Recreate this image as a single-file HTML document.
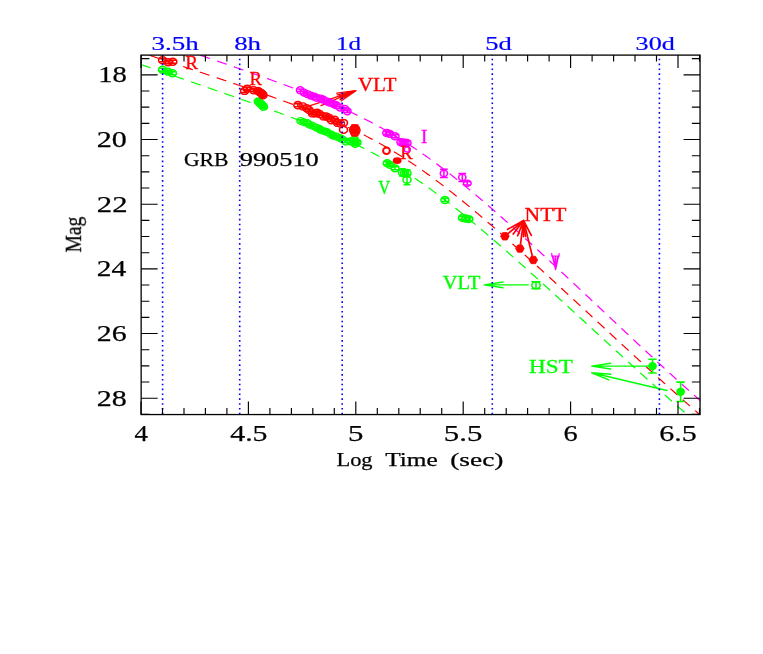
<!DOCTYPE html><html><head><meta charset="utf-8"><style>html,body{margin:0;padding:0;background:#fff;width:763px;height:654px;overflow:hidden;font-family:"Liberation Serif",serif}</style></head><body><svg width="763" height="654" viewBox="0 0 763 654" style="display:block;position:absolute;left:0;top:0" font-family="Liberation Serif, serif">
<rect width="763" height="654" fill="#fff"/>
<defs><clipPath id="cp"><rect x="141.15" y="55.1" width="558.9" height="359.45"/></clipPath></defs>
<g clip-path="url(#cp)"><g transform="scale(1.2,1)" fill="none" stroke-width="1.12">
<path d="M100.96,57.74 L101.79,58.08 L102.63,58.42 L103.46,58.76 L104.29,59.10 L105.13,59.44 L105.96,59.78 L106.79,60.13 L107.63,60.47 L108.46,60.81 L109.29,61.15 L110.13,61.49 L110.96,61.83 L111.79,62.17 L112.63,62.52 L113.46,62.86 L114.29,63.20 L115.13,63.54 L115.96,63.88 L116.79,64.22 L117.63,64.57 L118.46,64.91 L119.29,65.26 L120.13,65.61 L120.96,65.95 L121.79,66.30 L122.63,66.64 L123.46,66.99 L124.29,67.33 L125.13,67.68 L125.96,68.02 L126.79,68.37 L127.63,68.72 L128.46,69.06 L129.29,69.41 L130.12,69.75 L130.96,70.10 L131.79,70.45 L132.62,70.79 L133.46,71.14 L134.29,71.48 L135.12,71.83 L135.96,72.17 L136.79,72.52 L137.62,72.86 L138.46,73.21 L139.29,73.55 L140.12,73.90 L140.96,74.24 L141.79,74.59 L142.62,74.93 L143.46,75.28 L144.29,75.62 L145.12,75.97 L145.96,76.31 L146.79,76.66 L147.62,77.01 L148.46,77.35 L149.29,77.70 L150.12,78.04 L150.96,78.39 L151.79,78.73 L152.62,79.08 L153.46,79.42 L154.29,79.77 L155.12,80.11 L155.96,80.46 L156.79,80.80 L157.62,81.15 L158.46,81.49 L159.29,81.84 L160.12,82.19 L160.96,82.53 L161.79,82.88 L162.62,83.22 L163.46,83.57 L164.29,83.92 L165.12,84.26 L165.96,84.61 L166.79,84.95 L167.62,85.30 L168.46,85.65 L169.29,85.99 L170.12,86.34 L170.96,86.68 L171.79,87.03 L172.62,87.38 L173.46,87.72 L174.29,88.07 L175.12,88.42 L175.96,88.76 L176.79,89.11 L177.62,89.46 L178.46,89.80 L179.29,90.15 L180.12,90.50 L180.96,90.85 L181.79,91.19 L182.62,91.54 L183.46,91.89 L184.29,92.24 L185.12,92.59 L185.96,92.93 L186.79,93.28 L187.62,93.63 L188.46,93.98 L189.29,94.33 L190.12,94.68 L190.96,95.02 L191.79,95.37 L192.62,95.72 L193.46,96.07 L194.29,96.42 L195.12,96.77 L195.96,97.12 L196.79,97.47 L197.62,97.82 L198.46,98.18 L199.29,98.53 L200.12,98.88 L200.96,99.23 L201.79,99.58 L202.62,99.93 L203.46,100.29 L204.29,100.64 L205.12,100.99 L205.96,101.34 L206.79,101.70 L207.62,102.05 L208.46,102.40 L209.29,102.76 L210.12,103.11 L210.96,103.47 L211.79,103.82 L212.62,104.18 L213.46,104.54 L214.29,104.89 L215.12,105.25 L215.96,105.61 L216.79,105.96 L217.62,106.32 L218.46,106.68 L219.29,107.04 L220.12,107.40 L220.96,107.76 L221.79,108.12 L222.62,108.48 L223.46,108.84 L224.29,109.20 L225.12,109.56 L225.96,109.93 L226.79,110.29 L227.62,110.65 L228.46,111.02 L229.29,111.38 L230.12,111.75 L230.96,112.11 L231.79,112.48 L232.62,112.85 L233.46,113.21 L234.29,113.58 L235.12,113.95 L235.96,114.32 L236.79,114.69 L237.62,115.06 L238.46,115.43 L239.29,115.81 L240.12,116.18 L240.96,116.55 L241.79,116.93 L242.62,117.30 L243.46,117.68 L244.29,118.06 L245.12,118.44 L245.96,118.82 L246.79,119.20 L247.62,119.58 L248.46,119.96 L249.29,120.34 L250.12,120.73 L250.96,121.11 L251.79,121.50 L252.62,121.88 L253.46,122.27 L254.29,122.66 L255.12,123.05 L255.96,123.44 L256.79,123.83 L257.62,124.23 L258.46,124.62 L259.29,125.02 L260.12,125.42 L260.96,125.81 L261.79,126.21 L262.62,126.62 L263.46,127.02 L264.29,127.42 L265.12,127.83 L265.96,128.23 L266.79,128.64 L267.62,129.05 L268.46,129.46 L269.29,129.88 L270.12,130.29 L270.96,130.71 L271.79,131.12 L272.62,131.54 L273.46,131.96 L274.29,132.39 L275.12,132.81 L275.96,133.24 L276.79,133.66 L277.62,134.09 L278.46,134.53 L279.29,134.96 L280.12,135.39 L280.96,135.83 L281.79,136.27 L282.62,136.71 L283.46,137.16 L284.29,137.60 L285.12,138.05 L285.96,138.50 L286.79,138.95 L287.62,139.41 L288.46,139.86 L289.29,140.32 L290.12,140.78 L290.96,141.25 L291.79,141.71 L292.62,142.18 L293.46,142.65 L294.29,143.12 L295.12,143.60 L295.96,144.08 L296.79,144.56 L297.62,145.04 L298.46,145.53 L299.29,146.02 L300.12,146.51 L300.96,147.00 L301.79,147.50 L302.62,148.00 L303.46,148.50 L304.29,149.01 L305.12,149.52 L305.96,150.03 L306.79,150.54 L307.62,151.06 L308.46,151.58 L309.29,152.10 L310.12,152.63 L310.96,153.16 L311.79,153.69 L312.62,154.22 L313.46,154.76 L314.29,155.30 L315.12,155.85 L315.96,156.40 L316.79,156.95 L317.62,157.50 L318.46,158.06 L319.29,158.62 L320.12,159.19 L320.96,159.76 L321.79,160.33 L322.62,160.90 L323.46,161.48 L324.29,162.06 L325.12,162.65 L325.96,163.24 L326.79,163.83 L327.62,164.42 L328.46,165.02 L329.29,165.62 L330.12,166.23 L330.96,166.84 L331.79,167.45 L332.62,168.07 L333.46,168.69 L334.29,169.31 L335.12,169.94 L335.96,170.57 L336.79,171.20 L337.62,171.84 L338.46,172.48 L339.29,173.12 L340.12,173.77 L340.96,174.42 L341.79,175.08 L342.62,175.74 L343.46,176.40 L344.29,177.06 L345.12,177.73 L345.96,178.41 L346.79,179.08 L347.62,179.76 L348.46,180.44 L349.29,181.13 L350.12,181.82 L350.96,182.51 L351.79,183.21 L352.62,183.90 L353.46,184.61 L354.29,185.31 L355.12,186.02 L355.96,186.74 L356.79,187.45 L357.62,188.17 L358.46,188.89 L359.29,189.62 L360.12,190.35 L360.96,191.08 L361.79,191.81 L362.62,192.55 L363.46,193.29 L364.29,194.03 L365.12,194.78 L365.96,195.53 L366.79,196.28 L367.62,197.04 L368.46,197.79 L369.29,198.55 L370.12,199.32 L370.96,200.09 L371.79,200.86 L372.62,201.63 L373.46,202.40 L374.29,203.18 L375.12,203.96 L375.96,204.74 L376.79,205.53 L377.62,206.31 L378.46,207.10 L379.29,207.90 L380.12,208.69 L380.96,209.49 L381.79,210.29 L382.62,211.09 L383.46,211.89 L384.29,212.70 L385.12,213.51 L385.96,214.32 L386.79,215.14 L387.62,215.95 L388.46,216.77 L389.29,217.59 L390.12,218.41 L390.96,219.24 L391.79,220.06 L392.62,220.89 L393.46,221.72 L394.29,222.55 L395.12,223.38 L395.96,224.22 L396.79,225.05 L397.62,225.89 L398.46,226.73 L399.29,227.58 L400.12,228.42 L400.96,229.26 L401.79,230.11 L402.62,230.96 L403.46,231.81 L404.29,232.66 L405.12,233.52 L405.96,234.37 L406.79,235.23 L407.62,236.09 L408.46,236.95 L409.29,237.81 L410.12,238.67 L410.96,239.53 L411.79,240.40 L412.62,241.26 L413.46,242.13 L414.29,243.00 L415.12,243.87 L415.96,244.74 L416.79,245.61 L417.62,246.48 L418.46,247.36 L419.29,248.24 L420.12,249.11 L420.96,249.99 L421.79,250.87 L422.62,251.75 L423.46,252.63 L424.29,253.51 L425.12,254.39 L425.96,255.28 L426.79,256.16 L427.62,257.05 L428.46,257.93 L429.29,258.82 L430.12,259.71 L430.96,260.60 L431.79,261.49 L432.62,262.38 L433.46,263.27 L434.29,264.16 L435.12,265.06 L435.96,265.95 L436.79,266.84 L437.62,267.74 L438.46,268.64 L439.29,269.53 L440.12,270.43 L440.96,271.33 L441.79,272.23 L442.62,273.13 L443.46,274.03 L444.29,274.93 L445.12,275.83 L445.96,276.73 L446.79,277.63 L447.62,278.53 L448.46,279.43 L449.29,280.34 L450.12,281.24 L450.96,282.15 L451.79,283.05 L452.62,283.96 L453.46,284.87 L454.29,285.77 L455.12,286.68 L455.96,287.59 L456.79,288.50 L457.62,289.41 L458.46,290.31 L459.29,291.22 L460.12,292.13 L460.96,293.04 L461.79,293.95 L462.62,294.87 L463.46,295.78 L464.29,296.69 L465.12,297.60 L465.96,298.51 L466.79,299.42 L467.62,300.34 L468.46,301.25 L469.29,302.17 L470.12,303.08 L470.96,304.00 L471.79,304.91 L472.62,305.83 L473.46,306.74 L474.29,307.66 L475.12,308.57 L475.96,309.49 L476.79,310.41 L477.62,311.32 L478.46,312.24 L479.29,313.16 L480.12,314.07 L480.96,314.99 L481.79,315.91 L482.62,316.83 L483.46,317.75 L484.29,318.66 L485.12,319.58 L485.96,320.50 L486.79,321.42 L487.62,322.34 L488.46,323.26 L489.29,324.18 L490.12,325.10 L490.96,326.01 L491.79,326.93 L492.62,327.85 L493.46,328.77 L494.29,329.69 L495.12,330.61 L495.96,331.53 L496.79,332.46 L497.62,333.38 L498.46,334.30 L499.29,335.22 L500.12,336.14 L500.96,337.06 L501.79,337.97 L502.62,338.89 L503.46,339.81 L504.29,340.73 L505.12,341.64 L505.96,342.56 L506.79,343.48 L507.62,344.40 L508.46,345.32 L509.29,346.24 L510.12,347.15 L510.96,348.07 L511.79,348.99 L512.62,349.91 L513.46,350.83 L514.29,351.75 L515.12,352.67 L515.96,353.59 L516.79,354.51 L517.62,355.42 L518.46,356.33 L519.29,357.24 L520.12,358.15 L520.96,359.07 L521.79,359.98 L522.62,360.89 L523.46,361.80 L524.29,362.71 L525.12,363.63 L525.96,364.54 L526.79,365.45 L527.62,366.36 L528.46,367.28 L529.29,368.19 L530.12,369.10 L530.96,370.02 L531.79,370.93 L532.62,371.84 L533.46,372.75 L534.29,373.65 L535.12,374.56 L535.96,375.46 L536.79,376.36 L537.62,377.26 L538.46,378.16 L539.29,379.07 L540.12,379.97 L540.96,380.87 L541.79,381.77 L542.62,382.67 L543.46,383.58 L544.29,384.48 L545.12,385.38 L545.96,386.28 L546.79,387.18 L547.62,388.09 L548.46,388.99 L549.29,389.89 L550.12,390.79 L550.96,391.68 L551.79,392.57 L552.62,393.45 L553.46,394.34 L554.29,395.23 L555.12,396.12 L555.96,397.00 L556.79,397.89 L557.62,398.78 L558.46,399.67 L559.29,400.55 L560.12,401.44 L560.96,402.33 L561.79,403.22 L562.62,404.10 L563.46,404.99 L564.29,405.88 L565.12,406.77 L565.96,407.65 L566.79,408.54 L567.62,409.41 L568.46,410.28 L569.29,411.14 L570.12,412.01 L570.96,412.88 L571.79,413.75 L572.62,414.62 L573.46,415.49 L574.29,416.36 L575.12,417.23 L575.96,418.10 L576.79,418.96 L577.62,419.83 L578.46,420.70 L579.29,421.57 L580.12,422.44 L580.96,423.31 L581.79,424.18 L582.62,425.05 L583.46,425.92 L584.29,426.84 L585.12,427.76 L585.96,428.68 L586.79,429.60 L587.62,430.52 L588.46,431.44 L589.29,432.36 L590.12,433.28 L590.96,434.20 L591.79,435.12 L592.62,436.04 L593.46,436.95 L594.29,437.87 L595.12,438.79 L595.96,439.71 L596.79,440.63 L597.62,441.55 L598.46,442.47 L599.29,443.39" stroke="#00ff00" stroke-dasharray="8.7 6.35" stroke-dashoffset="12.27"/>
<path d="M100.96,45.91 L101.79,46.24 L102.63,46.57 L103.46,46.90 L104.29,47.23 L105.13,47.55 L105.96,47.88 L106.79,48.21 L107.63,48.54 L108.46,48.87 L109.29,49.20 L110.13,49.53 L110.96,49.85 L111.79,50.18 L112.63,50.51 L113.46,50.84 L114.29,51.17 L115.13,51.50 L115.96,51.83 L116.79,52.16 L117.63,52.49 L118.46,52.82 L119.29,53.15 L120.13,53.49 L120.96,53.82 L121.79,54.15 L122.63,54.49 L123.46,54.82 L124.29,55.15 L125.13,55.49 L125.96,55.82 L126.79,56.15 L127.63,56.49 L128.46,56.82 L129.29,57.15 L130.12,57.49 L130.96,57.82 L131.79,58.15 L132.62,58.49 L133.46,58.82 L134.29,59.15 L135.12,59.49 L135.96,59.82 L136.79,60.15 L137.62,60.48 L138.46,60.82 L139.29,61.15 L140.12,61.48 L140.96,61.82 L141.79,62.15 L142.62,62.48 L143.46,62.82 L144.29,63.15 L145.12,63.48 L145.96,63.82 L146.79,64.15 L147.62,64.48 L148.46,64.82 L149.29,65.15 L150.12,65.48 L150.96,65.82 L151.79,66.15 L152.62,66.48 L153.46,66.82 L154.29,67.15 L155.12,67.48 L155.96,67.82 L156.79,68.15 L157.62,68.48 L158.46,68.82 L159.29,69.15 L160.12,69.49 L160.96,69.82 L161.79,70.15 L162.62,70.49 L163.46,70.82 L164.29,71.16 L165.12,71.49 L165.96,71.83 L166.79,72.16 L167.62,72.50 L168.46,72.83 L169.29,73.17 L170.12,73.50 L170.96,73.84 L171.79,74.17 L172.62,74.51 L173.46,74.84 L174.29,75.18 L175.12,75.51 L175.96,75.85 L176.79,76.19 L177.62,76.52 L178.46,76.86 L179.29,77.19 L180.12,77.53 L180.96,77.87 L181.79,78.21 L182.62,78.54 L183.46,78.88 L184.29,79.22 L185.12,79.56 L185.96,79.89 L186.79,80.23 L187.62,80.57 L188.46,80.91 L189.29,81.25 L190.12,81.59 L190.96,81.92 L191.79,82.26 L192.62,82.60 L193.46,82.94 L194.29,83.28 L195.12,83.62 L195.96,83.96 L196.79,84.31 L197.62,84.65 L198.46,84.99 L199.29,85.33 L200.12,85.67 L200.96,86.02 L201.79,86.36 L202.62,86.70 L203.46,87.04 L204.29,87.39 L205.12,87.73 L205.96,88.08 L206.79,88.42 L207.62,88.77 L208.46,89.11 L209.29,89.46 L210.12,89.80 L210.96,90.15 L211.79,90.50 L212.62,90.85 L213.46,91.19 L214.29,91.54 L215.12,91.89 L215.96,92.24 L216.79,92.59 L217.62,92.94 L218.46,93.29 L219.29,93.64 L220.12,94.00 L220.96,94.35 L221.79,94.70 L222.62,95.06 L223.46,95.41 L224.29,95.76 L225.12,96.12 L225.96,96.48 L226.79,96.83 L227.62,97.19 L228.46,97.55 L229.29,97.91 L230.12,98.27 L230.96,98.63 L231.79,98.99 L232.62,99.35 L233.46,99.71 L234.29,100.08 L235.12,100.44 L235.96,100.80 L236.79,101.17 L237.62,101.54 L238.46,101.90 L239.29,102.27 L240.12,102.64 L240.96,103.01 L241.79,103.38 L242.62,103.75 L243.46,104.13 L244.29,104.50 L245.12,104.88 L245.96,105.25 L246.79,105.63 L247.62,106.01 L248.46,106.39 L249.29,106.77 L250.12,107.15 L250.96,107.53 L251.79,107.91 L252.62,108.30 L253.46,108.68 L254.29,109.07 L255.12,109.46 L255.96,109.85 L256.79,110.24 L257.62,110.63 L258.46,111.03 L259.29,111.42 L260.12,111.82 L260.96,112.22 L261.79,112.62 L262.62,113.02 L263.46,113.42 L264.29,113.82 L265.12,114.23 L265.96,114.64 L266.79,115.05 L267.62,115.46 L268.46,115.87 L269.29,116.28 L270.12,116.70 L270.96,117.12 L271.79,117.53 L272.62,117.96 L273.46,118.38 L274.29,118.80 L275.12,119.23 L275.96,119.66 L276.79,120.09 L277.62,120.52 L278.46,120.96 L279.29,121.39 L280.12,121.83 L280.96,122.27 L281.79,122.72 L282.62,123.16 L283.46,123.61 L284.29,124.06 L285.12,124.51 L285.96,124.96 L286.79,125.42 L287.62,125.88 L288.46,126.34 L289.29,126.80 L290.12,127.27 L290.96,127.74 L291.79,128.21 L292.62,128.68 L293.46,129.16 L294.29,129.64 L295.12,130.12 L295.96,130.60 L296.79,131.09 L297.62,131.58 L298.46,132.07 L299.29,132.57 L300.12,133.07 L300.96,133.57 L301.79,134.07 L302.62,134.58 L303.46,135.09 L304.29,135.60 L305.12,136.11 L305.96,136.63 L306.79,137.15 L307.62,137.68 L308.46,138.20 L309.29,138.73 L310.12,139.27 L310.96,139.80 L311.79,140.34 L312.62,140.89 L313.46,141.43 L314.29,141.98 L315.12,142.53 L315.96,143.09 L316.79,143.65 L317.62,144.21 L318.46,144.78 L319.29,145.35 L320.12,145.92 L320.96,146.50 L321.79,147.07 L322.62,147.66 L323.46,148.24 L324.29,148.83 L325.12,149.42 L325.96,150.02 L326.79,150.62 L327.62,151.22 L328.46,151.83 L329.29,152.44 L330.12,153.05 L330.96,153.67 L331.79,154.29 L332.62,154.91 L333.46,155.54 L334.29,156.17 L335.12,156.80 L335.96,157.44 L336.79,158.08 L337.62,158.73 L338.46,159.37 L339.29,160.03 L340.12,160.68 L340.96,161.34 L341.79,162.00 L342.62,162.66 L343.46,163.33 L344.29,164.00 L345.12,164.68 L345.96,165.36 L346.79,166.04 L347.62,166.72 L348.46,167.41 L349.29,168.10 L350.12,168.80 L350.96,169.50 L351.79,170.20 L352.62,170.91 L353.46,171.61 L354.29,172.33 L355.12,173.04 L355.96,173.76 L356.79,174.48 L357.62,175.20 L358.46,175.93 L359.29,176.66 L360.12,177.39 L360.96,178.13 L361.79,178.87 L362.62,179.61 L363.46,180.36 L364.29,181.11 L365.12,181.86 L365.96,182.61 L366.79,183.37 L367.62,184.13 L368.46,184.89 L369.29,185.66 L370.12,186.43 L370.96,187.20 L371.79,187.97 L372.62,188.75 L373.46,189.53 L374.29,190.31 L375.12,191.09 L375.96,191.88 L376.79,192.67 L377.62,193.46 L378.46,194.25 L379.29,195.05 L380.12,195.85 L380.96,196.65 L381.79,197.45 L382.62,198.26 L383.46,199.07 L384.29,199.88 L385.12,200.69 L385.96,201.51 L386.79,202.33 L387.62,203.14 L388.46,203.97 L389.29,204.79 L390.12,205.62 L390.96,206.44 L391.79,207.27 L392.62,208.11 L393.46,208.94 L394.29,209.77 L395.12,210.61 L395.96,211.45 L396.79,212.29 L397.62,213.13 L398.46,213.98 L399.29,214.82 L400.12,215.67 L400.96,216.52 L401.79,217.37 L402.62,218.23 L403.46,219.08 L404.29,219.94 L405.12,220.80 L405.96,221.66 L406.79,222.52 L407.62,223.38 L408.46,224.24 L409.29,225.11 L410.12,225.98 L410.96,226.84 L411.79,227.71 L412.62,228.58 L413.46,229.46 L414.29,230.33 L415.12,231.20 L415.96,232.08 L416.79,232.96 L417.62,233.83 L418.46,234.71 L419.29,235.59 L420.12,236.48 L420.96,237.36 L421.79,238.24 L422.62,239.13 L423.46,240.02 L424.29,240.90 L425.12,241.79 L425.96,242.68 L426.79,243.57 L427.62,244.46 L428.46,245.35 L429.29,246.25 L430.12,247.14 L430.96,248.03 L431.79,248.93 L432.62,249.83 L433.46,250.72 L434.29,251.62 L435.12,252.52 L435.96,253.42 L436.79,254.32 L437.62,255.22 L438.46,256.13 L439.29,257.03 L440.12,257.93 L440.96,258.84 L441.79,259.74 L442.62,260.65 L443.46,261.55 L444.29,262.46 L445.12,263.37 L445.96,264.28 L446.79,265.18 L447.62,266.09 L448.46,267.00 L449.29,267.91 L450.12,268.83 L450.96,269.74 L451.79,270.65 L452.62,271.56 L453.46,272.48 L454.29,273.39 L455.12,274.31 L455.96,275.22 L456.79,276.14 L457.62,277.05 L458.46,277.97 L459.29,278.89 L460.12,279.80 L460.96,280.72 L461.79,281.64 L462.62,282.56 L463.46,283.48 L464.29,284.40 L465.12,285.32 L465.96,286.24 L466.79,287.16 L467.62,288.08 L468.46,289.00 L469.29,289.92 L470.12,290.84 L470.96,291.77 L471.79,292.69 L472.62,293.61 L473.46,294.54 L474.29,295.46 L475.12,296.38 L475.96,297.31 L476.79,298.23 L477.62,299.16 L478.46,300.08 L479.29,301.01 L480.12,301.94 L480.96,302.86 L481.79,303.79 L482.62,304.71 L483.46,305.64 L484.29,306.57 L485.12,307.49 L485.96,308.42 L486.79,309.35 L487.62,310.28 L488.46,311.20 L489.29,312.13 L490.12,313.06 L490.96,313.99 L491.79,314.92 L492.62,315.85 L493.46,316.77 L494.29,317.70 L495.12,318.63 L495.96,319.56 L496.79,320.49 L497.62,321.42 L498.46,322.35 L499.29,323.28 L500.12,324.21 L500.96,325.14 L501.79,326.06 L502.62,326.99 L503.46,327.92 L504.29,328.84 L505.12,329.77 L505.96,330.70 L506.79,331.63 L507.62,332.55 L508.46,333.48 L509.29,334.41 L510.12,335.34 L510.96,336.27 L511.79,337.19 L512.62,338.12 L513.46,339.05 L514.29,339.98 L515.12,340.91 L515.96,341.84 L516.79,342.76 L517.62,343.68 L518.46,344.61 L519.29,345.53 L520.12,346.45 L520.96,347.37 L521.79,348.29 L522.62,349.21 L523.46,350.14 L524.29,351.06 L525.12,351.98 L525.96,352.90 L526.79,353.82 L527.62,354.75 L528.46,355.67 L529.29,356.59 L530.12,357.51 L530.96,358.44 L531.79,359.36 L532.62,360.28 L533.46,361.20 L534.29,362.11 L535.12,363.03 L535.96,363.94 L536.79,364.85 L537.62,365.76 L538.46,366.67 L539.29,367.58 L540.12,368.50 L540.96,369.41 L541.79,370.32 L542.62,371.23 L543.46,372.14 L544.29,373.06 L545.12,373.97 L545.96,374.88 L546.79,375.79 L547.62,376.70 L548.46,377.62 L549.29,378.53 L550.12,379.44 L550.96,380.34 L551.79,381.23 L552.62,382.13 L553.46,383.03 L554.29,383.93 L555.12,384.82 L555.96,385.72 L556.79,386.62 L557.62,387.52 L558.46,388.41 L559.29,389.31 L560.12,390.21 L560.96,391.11 L561.79,392.00 L562.62,392.90 L563.46,393.80 L564.29,394.70 L565.12,395.59 L565.96,396.49 L566.79,397.39 L567.62,398.27 L568.46,399.14 L569.29,400.02 L570.12,400.90 L570.96,401.78 L571.79,402.66 L572.62,403.54 L573.46,404.42 L574.29,405.30 L575.12,406.18 L575.96,407.06 L576.79,407.93 L577.62,408.81 L578.46,409.69 L579.29,410.57 L580.12,411.45 L580.96,412.33 L581.79,413.21 L582.62,414.09 L583.46,414.98 L584.29,415.90 L585.12,416.83 L585.96,417.76 L586.79,418.69 L587.62,419.62 L588.46,420.55 L589.29,421.48 L590.12,422.41 L590.96,423.34 L591.79,424.27 L592.62,425.20 L593.46,426.13 L594.29,427.06 L595.12,427.99 L595.96,428.92 L596.79,429.85 L597.62,430.78 L598.46,431.70 L599.29,432.63" stroke="#ff0000" stroke-dasharray="8.7 6.35" stroke-dashoffset="4.60"/>
<path d="M100.96,28.43 L101.79,28.77 L102.63,29.10 L103.46,29.44 L104.29,29.77 L105.13,30.11 L105.96,30.44 L106.79,30.78 L107.63,31.11 L108.46,31.45 L109.29,31.79 L110.13,32.12 L110.96,32.46 L111.79,32.79 L112.63,33.13 L113.46,33.46 L114.29,33.80 L115.13,34.13 L115.96,34.47 L116.79,34.80 L117.63,35.14 L118.46,35.48 L119.29,35.82 L120.13,36.16 L120.96,36.50 L121.79,36.84 L122.63,37.18 L123.46,37.52 L124.29,37.86 L125.13,38.20 L125.96,38.54 L126.79,38.88 L127.63,39.22 L128.46,39.56 L129.29,39.90 L130.12,40.24 L130.96,40.58 L131.79,40.92 L132.62,41.26 L133.46,41.60 L134.29,41.94 L135.12,42.28 L135.96,42.62 L136.79,42.96 L137.62,43.29 L138.46,43.63 L139.29,43.97 L140.12,44.31 L140.96,44.65 L141.79,44.99 L142.62,45.33 L143.46,45.67 L144.29,46.01 L145.12,46.35 L145.96,46.69 L146.79,47.03 L147.62,47.37 L148.46,47.71 L149.29,48.05 L150.12,48.39 L150.96,48.73 L151.79,49.07 L152.62,49.41 L153.46,49.75 L154.29,50.09 L155.12,50.43 L155.96,50.77 L156.79,51.11 L157.62,51.45 L158.46,51.79 L159.29,52.13 L160.12,52.47 L160.96,52.81 L161.79,53.16 L162.62,53.50 L163.46,53.84 L164.29,54.18 L165.12,54.52 L165.96,54.86 L166.79,55.20 L167.62,55.54 L168.46,55.88 L169.29,56.23 L170.12,56.57 L170.96,56.91 L171.79,57.25 L172.62,57.59 L173.46,57.93 L174.29,58.28 L175.12,58.62 L175.96,58.96 L176.79,59.30 L177.62,59.65 L178.46,59.99 L179.29,60.33 L180.12,60.67 L180.96,61.02 L181.79,61.36 L182.62,61.71 L183.46,62.05 L184.29,62.39 L185.12,62.74 L185.96,63.08 L186.79,63.43 L187.62,63.77 L188.46,64.11 L189.29,64.46 L190.12,64.81 L190.96,65.15 L191.79,65.50 L192.62,65.84 L193.46,66.19 L194.29,66.54 L195.12,66.88 L195.96,67.23 L196.79,67.58 L197.62,67.92 L198.46,68.27 L199.29,68.62 L200.12,68.97 L200.96,69.32 L201.79,69.67 L202.62,70.02 L203.46,70.36 L204.29,70.71 L205.12,71.06 L205.96,71.41 L206.79,71.77 L207.62,72.12 L208.46,72.47 L209.29,72.82 L210.12,73.17 L210.96,73.53 L211.79,73.88 L212.62,74.23 L213.46,74.59 L214.29,74.94 L215.12,75.30 L215.96,75.65 L216.79,76.01 L217.62,76.36 L218.46,76.72 L219.29,77.08 L220.12,77.44 L220.96,77.79 L221.79,78.15 L222.62,78.51 L223.46,78.87 L224.29,79.23 L225.12,79.59 L225.96,79.96 L226.79,80.32 L227.62,80.68 L228.46,81.04 L229.29,81.41 L230.12,81.77 L230.96,82.14 L231.79,82.50 L232.62,82.87 L233.46,83.24 L234.29,83.61 L235.12,83.98 L235.96,84.35 L236.79,84.72 L237.62,85.09 L238.46,85.46 L239.29,85.83 L240.12,86.21 L240.96,86.58 L241.79,86.96 L242.62,87.33 L243.46,87.71 L244.29,88.09 L245.12,88.47 L245.96,88.85 L246.79,89.23 L247.62,89.61 L248.46,90.00 L249.29,90.38 L250.12,90.77 L250.96,91.15 L251.79,91.54 L252.62,91.93 L253.46,92.32 L254.29,92.71 L255.12,93.10 L255.96,93.49 L256.79,93.89 L257.62,94.28 L258.46,94.68 L259.29,95.08 L260.12,95.48 L260.96,95.88 L261.79,96.28 L262.62,96.69 L263.46,97.09 L264.29,97.50 L265.12,97.91 L265.96,98.31 L266.79,98.73 L267.62,99.14 L268.46,99.55 L269.29,99.97 L270.12,100.39 L270.96,100.80 L271.79,101.23 L272.62,101.65 L273.46,102.07 L274.29,102.50 L275.12,102.93 L275.96,103.35 L276.79,103.79 L277.62,104.22 L278.46,104.65 L279.29,105.09 L280.12,105.53 L280.96,105.97 L281.79,106.41 L282.62,106.86 L283.46,107.31 L284.29,107.75 L285.12,108.21 L285.96,108.66 L286.79,109.11 L287.62,109.57 L288.46,110.03 L289.29,110.49 L290.12,110.96 L290.96,111.43 L291.79,111.90 L292.62,112.37 L293.46,112.84 L294.29,113.32 L295.12,113.80 L295.96,114.28 L296.79,114.76 L297.62,115.25 L298.46,115.74 L299.29,116.23 L300.12,116.72 L300.96,117.22 L301.79,117.72 L302.62,118.22 L303.46,118.73 L304.29,119.24 L305.12,119.75 L305.96,120.26 L306.79,120.78 L307.62,121.30 L308.46,121.82 L309.29,122.34 L310.12,122.87 L310.96,123.40 L311.79,123.94 L312.62,124.48 L313.46,125.02 L314.29,125.56 L315.12,126.11 L315.96,126.65 L316.79,127.21 L317.62,127.76 L318.46,128.32 L319.29,128.89 L320.12,129.45 L320.96,130.02 L321.79,130.59 L322.62,131.17 L323.46,131.75 L324.29,132.33 L325.12,132.91 L325.96,133.50 L326.79,134.09 L327.62,134.69 L328.46,135.29 L329.29,135.89 L330.12,136.49 L330.96,137.10 L331.79,137.71 L332.62,138.33 L333.46,138.95 L334.29,139.57 L335.12,140.20 L335.96,140.82 L336.79,141.46 L337.62,142.09 L338.46,142.73 L339.29,143.38 L340.12,144.02 L340.96,144.67 L341.79,145.32 L342.62,145.98 L343.46,146.64 L344.29,147.30 L345.12,147.97 L345.96,148.64 L346.79,149.31 L347.62,149.99 L348.46,150.67 L349.29,151.35 L350.12,152.04 L350.96,152.73 L351.79,153.42 L352.62,154.12 L353.46,154.82 L354.29,155.53 L355.12,156.23 L355.96,156.94 L356.79,157.66 L357.62,158.37 L358.46,159.09 L359.29,159.82 L360.12,160.54 L360.96,161.27 L361.79,162.00 L362.62,162.74 L363.46,163.48 L364.29,164.22 L365.12,164.96 L365.96,165.71 L366.79,166.46 L367.62,167.21 L368.46,167.97 L369.29,168.73 L370.12,169.49 L370.96,170.26 L371.79,171.03 L372.62,171.80 L373.46,172.57 L374.29,173.35 L375.12,174.13 L375.96,174.91 L376.79,175.70 L377.62,176.48 L378.46,177.27 L379.29,178.07 L380.12,178.86 L380.96,179.66 L381.79,180.46 L382.62,181.26 L383.46,182.07 L384.29,182.88 L385.12,183.69 L385.96,184.50 L386.79,185.32 L387.62,186.13 L388.46,186.95 L389.29,187.78 L390.12,188.60 L390.96,189.43 L391.79,190.26 L392.62,191.09 L393.46,191.92 L394.29,192.75 L395.12,193.59 L395.96,194.43 L396.79,195.27 L397.62,196.11 L398.46,196.96 L399.29,197.81 L400.12,198.65 L400.96,199.51 L401.79,200.36 L402.62,201.21 L403.46,202.07 L404.29,202.93 L405.12,203.79 L405.96,204.65 L406.79,205.51 L407.62,206.38 L408.46,207.25 L409.29,208.11 L410.12,208.98 L410.96,209.86 L411.79,210.73 L412.62,211.60 L413.46,212.48 L414.29,213.36 L415.12,214.23 L415.96,215.11 L416.79,215.99 L417.62,216.88 L418.46,217.76 L419.29,218.65 L420.12,219.54 L420.96,220.43 L421.79,221.32 L422.62,222.21 L423.46,223.10 L424.29,223.99 L425.12,224.89 L425.96,225.78 L426.79,226.68 L427.62,227.58 L428.46,228.47 L429.29,229.37 L430.12,230.28 L430.96,231.18 L431.79,232.08 L432.62,232.98 L433.46,233.89 L434.29,234.79 L435.12,235.70 L435.96,236.61 L436.79,237.52 L437.62,238.43 L438.46,239.34 L439.29,240.25 L440.12,241.16 L440.96,242.08 L441.79,242.99 L442.62,243.91 L443.46,244.82 L444.29,245.74 L445.12,246.66 L445.96,247.57 L446.79,248.49 L447.62,249.41 L448.46,250.33 L449.29,251.25 L450.12,252.17 L450.96,253.09 L451.79,254.02 L452.62,254.94 L453.46,255.86 L454.29,256.79 L455.12,257.72 L455.96,258.64 L456.79,259.57 L457.62,260.49 L458.46,261.42 L459.29,262.35 L460.12,263.28 L460.96,264.21 L461.79,265.14 L462.62,266.07 L463.46,267.00 L464.29,267.93 L465.12,268.86 L465.96,269.79 L466.79,270.72 L467.62,271.66 L468.46,272.59 L469.29,273.53 L470.12,274.46 L470.96,275.39 L471.79,276.33 L472.62,277.27 L473.46,278.20 L474.29,279.14 L475.12,280.08 L475.96,281.01 L476.79,281.95 L477.62,282.89 L478.46,283.83 L479.29,284.76 L480.12,285.70 L480.96,286.64 L481.79,287.58 L482.62,288.52 L483.46,289.46 L484.29,290.40 L485.12,291.34 L485.96,292.28 L486.79,293.22 L487.62,294.16 L488.46,295.10 L489.29,296.05 L490.12,296.99 L490.96,297.93 L491.79,298.87 L492.62,299.81 L493.46,300.76 L494.29,301.70 L495.12,302.64 L495.96,303.58 L496.79,304.53 L497.62,305.47 L498.46,306.42 L499.29,307.36 L500.12,308.30 L500.96,309.24 L501.79,310.18 L502.62,311.13 L503.46,312.07 L504.29,313.01 L505.12,313.95 L505.96,314.89 L506.79,315.83 L507.62,316.77 L508.46,317.72 L509.29,318.66 L510.12,319.60 L510.96,320.54 L511.79,321.49 L512.62,322.43 L513.46,323.37 L514.29,324.31 L515.12,325.26 L515.96,326.20 L516.79,327.14 L517.62,328.08 L518.46,329.02 L519.29,329.95 L520.12,330.89 L520.96,331.82 L521.79,332.76 L522.62,333.70 L523.46,334.63 L524.29,335.57 L525.12,336.51 L525.96,337.45 L526.79,338.38 L527.62,339.32 L528.46,340.26 L529.29,341.19 L530.12,342.13 L530.96,343.07 L531.79,344.01 L532.62,344.94 L533.46,345.88 L534.29,346.81 L535.12,347.73 L535.96,348.66 L536.79,349.59 L537.62,350.51 L538.46,351.44 L539.29,352.37 L540.12,353.29 L540.96,354.22 L541.79,355.15 L542.62,356.08 L543.46,357.00 L544.29,357.93 L545.12,358.86 L545.96,359.79 L546.79,360.71 L547.62,361.64 L548.46,362.57 L549.29,363.50 L550.12,364.42 L550.96,365.33 L551.79,366.25 L552.62,367.16 L553.46,368.07 L554.29,368.98 L555.12,369.90 L555.96,370.81 L556.79,371.72 L557.62,372.64 L558.46,373.55 L559.29,374.46 L560.12,375.38 L560.96,376.29 L561.79,377.20 L562.62,378.11 L563.46,379.03 L564.29,379.94 L565.12,380.85 L565.96,381.77 L566.79,382.68 L567.62,383.57 L568.46,384.47 L569.29,385.36 L570.12,386.26 L570.96,387.15 L571.79,388.04 L572.62,388.94 L573.46,389.83 L574.29,390.73 L575.12,391.62 L575.96,392.52 L576.79,393.41 L577.62,394.31 L578.46,395.20 L579.29,396.10 L580.12,396.99 L580.96,397.89 L581.79,398.78 L582.62,399.68 L583.46,400.58 L584.29,401.52 L585.12,402.47 L585.96,403.41 L586.79,404.36 L587.62,405.30 L588.46,406.25 L589.29,407.19 L590.12,408.14 L590.96,409.08 L591.79,410.03 L592.62,410.97 L593.46,411.92 L594.29,412.86 L595.12,413.81 L595.96,414.75 L596.79,415.70 L597.62,416.64 L598.46,417.59 L599.29,418.54" stroke="#ff00ff" stroke-dasharray="8.7 6.35" stroke-dashoffset="3.96"/>
</g></g>
<ellipse cx="162.6" cy="69.7" rx="4.0" ry="3.4" fill="none" stroke="#00ff00" stroke-width="1.55"/><path d="M162.6,68.2V71.2M159.2,68.2H166.0M159.2,71.2H166.0" stroke="#00ff00" stroke-width="1.55" fill="none"/>
<ellipse cx="167.7" cy="71.6" rx="4.0" ry="3.4" fill="none" stroke="#00ff00" stroke-width="1.55"/><path d="M167.7,70.1V73.1M164.3,70.1H171.1M164.3,73.1H171.1" stroke="#00ff00" stroke-width="1.55" fill="none"/>
<ellipse cx="172.4" cy="73.2" rx="4.0" ry="3.4" fill="none" stroke="#00ff00" stroke-width="1.55"/><path d="M172.4,71.7V74.7M169.0,71.7H175.8M169.0,74.7H175.8" stroke="#00ff00" stroke-width="1.55" fill="none"/>
<ellipse cx="258.3" cy="101.5" rx="4.0" ry="3.4" fill="none" stroke="#00ff00" stroke-width="1.55"/><path d="M258.3,100.0V103.0M254.9,100.0H261.7M254.9,103.0H261.7" stroke="#00ff00" stroke-width="1.55" fill="none"/>
<ellipse cx="259.6" cy="102.8" rx="4.0" ry="3.4" fill="none" stroke="#00ff00" stroke-width="1.55"/><path d="M259.6,101.3V104.3M256.2,101.3H263.0M256.2,104.3H263.0" stroke="#00ff00" stroke-width="1.55" fill="none"/>
<ellipse cx="261.0" cy="104.0" rx="4.0" ry="3.4" fill="none" stroke="#00ff00" stroke-width="1.55"/><path d="M261.0,102.5V105.5M257.6,102.5H264.4M257.6,105.5H264.4" stroke="#00ff00" stroke-width="1.55" fill="none"/>
<ellipse cx="262.3" cy="105.3" rx="4.0" ry="3.4" fill="none" stroke="#00ff00" stroke-width="1.55"/><path d="M262.3,103.8V106.8M258.9,103.8H265.7M258.9,106.8H265.7" stroke="#00ff00" stroke-width="1.55" fill="none"/>
<ellipse cx="263.5" cy="106.8" rx="4.0" ry="3.4" fill="none" stroke="#00ff00" stroke-width="1.55"/><path d="M263.5,105.3V108.3M260.1,105.3H266.9M260.1,108.3H266.9" stroke="#00ff00" stroke-width="1.55" fill="none"/>
<ellipse cx="300.7" cy="120.9" rx="3.8" ry="3.3" fill="none" stroke="#00ff00" stroke-width="1.45"/><path d="M300.7,119.7V122.1M297.3,119.7H304.1M297.3,122.1H304.1" stroke="#00ff00" stroke-width="1.45" fill="none"/>
<ellipse cx="303.8" cy="122.2" rx="3.8" ry="3.3" fill="none" stroke="#00ff00" stroke-width="1.45"/><path d="M303.8,121.0V123.4M300.4,121.0H307.2M300.4,123.4H307.2" stroke="#00ff00" stroke-width="1.45" fill="none"/>
<ellipse cx="307.1" cy="122.9" rx="3.8" ry="3.3" fill="none" stroke="#00ff00" stroke-width="1.45"/><path d="M307.1,121.7V124.1M303.7,121.7H310.5M303.7,124.1H310.5" stroke="#00ff00" stroke-width="1.45" fill="none"/>
<ellipse cx="309.3" cy="124.7" rx="3.8" ry="3.3" fill="none" stroke="#00ff00" stroke-width="1.45"/><path d="M309.3,123.5V125.9M305.9,123.5H312.7M305.9,125.9H312.7" stroke="#00ff00" stroke-width="1.45" fill="none"/>
<ellipse cx="312.7" cy="125.8" rx="3.8" ry="3.3" fill="none" stroke="#00ff00" stroke-width="1.45"/><path d="M312.7,124.6V127.0M309.3,124.6H316.1M309.3,127.0H316.1" stroke="#00ff00" stroke-width="1.45" fill="none"/>
<ellipse cx="316.4" cy="127.7" rx="3.8" ry="3.3" fill="none" stroke="#00ff00" stroke-width="1.45"/><path d="M316.4,126.5V128.9M313.0,126.5H319.8M313.0,128.9H319.8" stroke="#00ff00" stroke-width="1.45" fill="none"/>
<ellipse cx="319.4" cy="128.8" rx="3.8" ry="3.3" fill="none" stroke="#00ff00" stroke-width="1.45"/><path d="M319.4,127.6V130.0M316.0,127.6H322.8M316.0,130.0H322.8" stroke="#00ff00" stroke-width="1.45" fill="none"/>
<ellipse cx="321.0" cy="130.1" rx="3.8" ry="3.3" fill="none" stroke="#00ff00" stroke-width="1.45"/><path d="M321.0,128.9V131.3M317.6,128.9H324.4M317.6,131.3H324.4" stroke="#00ff00" stroke-width="1.45" fill="none"/>
<ellipse cx="324.2" cy="131.2" rx="3.8" ry="3.3" fill="none" stroke="#00ff00" stroke-width="1.45"/><path d="M324.2,130.0V132.4M320.8,130.0H327.6M320.8,132.4H327.6" stroke="#00ff00" stroke-width="1.45" fill="none"/>
<ellipse cx="326.9" cy="132.0" rx="3.8" ry="3.3" fill="none" stroke="#00ff00" stroke-width="1.45"/><path d="M326.9,130.8V133.2M323.5,130.8H330.3M323.5,133.2H330.3" stroke="#00ff00" stroke-width="1.45" fill="none"/>
<ellipse cx="330.6" cy="134.2" rx="3.8" ry="3.3" fill="none" stroke="#00ff00" stroke-width="1.45"/><path d="M330.6,133.0V135.4M327.2,133.0H334.0M327.2,135.4H334.0" stroke="#00ff00" stroke-width="1.45" fill="none"/>
<ellipse cx="332.9" cy="135.6" rx="3.8" ry="3.3" fill="none" stroke="#00ff00" stroke-width="1.45"/><path d="M332.9,134.4V136.8M329.5,134.4H336.3M329.5,136.8H336.3" stroke="#00ff00" stroke-width="1.45" fill="none"/>
<ellipse cx="336.6" cy="136.6" rx="3.8" ry="3.3" fill="none" stroke="#00ff00" stroke-width="1.45"/><path d="M336.6,135.4V137.8M333.2,135.4H340.0M333.2,137.8H340.0" stroke="#00ff00" stroke-width="1.45" fill="none"/>
<ellipse cx="340.0" cy="138.0" rx="3.8" ry="3.3" fill="none" stroke="#00ff00" stroke-width="1.45"/><path d="M340.0,136.8V139.2M336.6,136.8H343.4M336.6,139.2H343.4" stroke="#00ff00" stroke-width="1.45" fill="none"/>
<ellipse cx="342.3" cy="139.3" rx="3.8" ry="3.3" fill="none" stroke="#00ff00" stroke-width="1.45"/><path d="M342.3,138.1V140.5M338.9,138.1H345.7M338.9,140.5H345.7" stroke="#00ff00" stroke-width="1.45" fill="none"/>
<ellipse cx="345.7" cy="141.6" rx="3.8" ry="3.3" fill="none" stroke="#00ff00" stroke-width="1.45"/><path d="M345.7,140.4V142.8M342.3,140.4H349.1M342.3,142.8H349.1" stroke="#00ff00" stroke-width="1.45" fill="none"/>
<ellipse cx="351.0" cy="141.2" rx="4.0" ry="3.4" fill="none" stroke="#00ff00" stroke-width="1.55"/><path d="M351.0,139.7V142.7M347.6,139.7H354.4M347.6,142.7H354.4" stroke="#00ff00" stroke-width="1.55" fill="none"/>
<ellipse cx="354.8" cy="141.6" rx="4.0" ry="3.4" fill="none" stroke="#00ff00" stroke-width="1.55"/><path d="M354.8,140.1V143.1M351.4,140.1H358.2M351.4,143.1H358.2" stroke="#00ff00" stroke-width="1.55" fill="none"/>
<ellipse cx="357.0" cy="142.6" rx="4.0" ry="3.4" fill="none" stroke="#00ff00" stroke-width="1.55"/><path d="M357.0,141.1V144.1M353.6,141.1H360.4M353.6,144.1H360.4" stroke="#00ff00" stroke-width="1.55" fill="none"/>
<ellipse cx="354.5" cy="139.8" rx="4.0" ry="3.4" fill="none" stroke="#00ff00" stroke-width="1.55"/><path d="M354.5,138.3V141.3M351.1,138.3H357.9M351.1,141.3H357.9" stroke="#00ff00" stroke-width="1.55" fill="none"/>
<ellipse cx="355.2" cy="143.8" rx="4.0" ry="3.4" fill="none" stroke="#00ff00" stroke-width="1.55"/><path d="M355.2,142.3V145.3M351.8,142.3H358.6M351.8,145.3H358.6" stroke="#00ff00" stroke-width="1.55" fill="none"/>
<ellipse cx="387.3" cy="163.2" rx="4.0" ry="3.4" fill="none" stroke="#00ff00" stroke-width="1.55"/><path d="M387.3,161.7V164.7M383.9,161.7H390.7M383.9,164.7H390.7" stroke="#00ff00" stroke-width="1.55" fill="none"/>
<ellipse cx="390.0" cy="164.8" rx="4.0" ry="3.4" fill="none" stroke="#00ff00" stroke-width="1.55"/><path d="M390.0,163.3V166.3M386.6,163.3H393.4M386.6,166.3H393.4" stroke="#00ff00" stroke-width="1.55" fill="none"/>
<ellipse cx="395.0" cy="168.3" rx="4.0" ry="3.4" fill="none" stroke="#00ff00" stroke-width="1.55"/><path d="M395.0,166.8V169.8M391.6,166.8H398.4M391.6,169.8H398.4" stroke="#00ff00" stroke-width="1.55" fill="none"/>
<ellipse cx="402.4" cy="172.4" rx="4.0" ry="3.4" fill="none" stroke="#00ff00" stroke-width="1.55"/><path d="M402.4,168.9V175.9M399.0,168.9H405.8M399.0,175.9H405.8" stroke="#00ff00" stroke-width="1.55" fill="none"/>
<ellipse cx="404.5" cy="173.0" rx="4.0" ry="3.4" fill="none" stroke="#00ff00" stroke-width="1.55"/><path d="M404.5,169.5V176.5M401.1,169.5H407.9M401.1,176.5H407.9" stroke="#00ff00" stroke-width="1.55" fill="none"/>
<ellipse cx="407.0" cy="173.3" rx="4.0" ry="3.4" fill="none" stroke="#00ff00" stroke-width="1.55"/><path d="M407.0,169.8V176.8M403.6,169.8H410.4M403.6,176.8H410.4" stroke="#00ff00" stroke-width="1.55" fill="none"/>
<ellipse cx="407.0" cy="179.7" rx="4.0" ry="3.4" fill="none" stroke="#00ff00" stroke-width="1.55"/><path d="M407.0,174.7V184.7M403.6,174.7H410.4M403.6,184.7H410.4" stroke="#00ff00" stroke-width="1.55" fill="none"/>
<ellipse cx="444.9" cy="200.0" rx="4.0" ry="3.4" fill="none" stroke="#00ff00" stroke-width="1.55"/><path d="M444.9,198.5V201.5M441.5,198.5H448.3M441.5,201.5H448.3" stroke="#00ff00" stroke-width="1.55" fill="none"/>
<ellipse cx="462.5" cy="217.8" rx="4.0" ry="3.4" fill="none" stroke="#00ff00" stroke-width="1.55"/><path d="M462.5,216.3V219.3M459.1,216.3H465.9M459.1,219.3H465.9" stroke="#00ff00" stroke-width="1.55" fill="none"/>
<ellipse cx="465.8" cy="218.5" rx="4.0" ry="3.4" fill="none" stroke="#00ff00" stroke-width="1.55"/><path d="M465.8,217.0V220.0M462.4,217.0H469.2M462.4,220.0H469.2" stroke="#00ff00" stroke-width="1.55" fill="none"/>
<ellipse cx="468.8" cy="219.1" rx="4.0" ry="3.4" fill="none" stroke="#00ff00" stroke-width="1.55"/><path d="M468.8,217.6V220.6M465.4,217.6H472.2M465.4,220.6H472.2" stroke="#00ff00" stroke-width="1.55" fill="none"/>
<ellipse cx="536.0" cy="285.2" rx="4.2" ry="3.45" fill="none" stroke="#00ff00" stroke-width="1.6"/><path d="M536.0,281.7V288.7M531.4,281.7H540.6M531.4,288.7H540.6" stroke="#00ff00" stroke-width="1.6" fill="none"/>
<ellipse cx="652.5" cy="366.1" rx="3.6" ry="3.4" fill="#00ff00" stroke="#00ff00" stroke-width="1.55"/><path d="M652.5,359.3V372.9M648.3,359.3H656.7M648.3,372.9H656.7" stroke="#00ff00" stroke-width="1.55" fill="none"/>
<ellipse cx="680.6" cy="391.8" rx="3.6" ry="3.4" fill="#00ff00" stroke="#00ff00" stroke-width="1.55"/><path d="M680.6,382.1V401.5M676.4,382.1H684.8M676.4,401.5H684.8" stroke="#00ff00" stroke-width="1.55" fill="none"/>
<path d="M528.2,284.9L484.1,284.9M503.0,282.0L484.1,284.9L503.0,287.8" stroke="#00ff00" stroke-width="1.4" fill="none" stroke-linejoin="round" stroke-linecap="round"/>
<path d="M648.2,366.1L591.7,366.1M610.6,363.2L591.7,366.1L610.6,369.0" stroke="#00ff00" stroke-width="1.4" fill="none" stroke-linejoin="round" stroke-linecap="round"/>
<path d="M666.9,390.5L591.7,372.8M610.8,374.3L591.7,372.8L608.9,379.9" stroke="#00ff00" stroke-width="1.4" fill="none" stroke-linejoin="round" stroke-linecap="round"/>
<ellipse cx="162.6" cy="60.2" rx="4.0" ry="3.4" fill="none" stroke="#ff0000" stroke-width="1.55"/><path d="M162.6,58.7V61.7M159.2,58.7H166.0M159.2,61.7H166.0" stroke="#ff0000" stroke-width="1.55" fill="none"/>
<ellipse cx="168.1" cy="62.2" rx="4.0" ry="3.4" fill="none" stroke="#ff0000" stroke-width="1.55"/><path d="M168.1,60.7V63.7M164.7,60.7H171.5M164.7,63.7H171.5" stroke="#ff0000" stroke-width="1.55" fill="none"/>
<ellipse cx="172.8" cy="61.8" rx="4.0" ry="3.4" fill="none" stroke="#ff0000" stroke-width="1.55"/><path d="M172.8,60.3V63.3M169.4,60.3H176.2M169.4,63.3H176.2" stroke="#ff0000" stroke-width="1.55" fill="none"/>
<ellipse cx="244.5" cy="90.9" rx="4.0" ry="3.4" fill="none" stroke="#ff0000" stroke-width="1.55"/><path d="M244.5,89.4V92.4M241.1,89.4H247.9M241.1,92.4H247.9" stroke="#ff0000" stroke-width="1.55" fill="none"/>
<ellipse cx="247.3" cy="88.6" rx="4.0" ry="3.4" fill="none" stroke="#ff0000" stroke-width="1.55"/><path d="M247.3,87.1V90.1M243.9,87.1H250.7M243.9,90.1H250.7" stroke="#ff0000" stroke-width="1.55" fill="none"/>
<ellipse cx="253.6" cy="90.2" rx="4.0" ry="3.4" fill="none" stroke="#ff0000" stroke-width="1.55"/><path d="M253.6,88.7V91.7M250.2,88.7H257.0M250.2,91.7H257.0" stroke="#ff0000" stroke-width="1.55" fill="none"/>
<ellipse cx="258.0" cy="91.0" rx="4.0" ry="3.4" fill="none" stroke="#ff0000" stroke-width="1.55"/><path d="M258.0,89.5V92.5M254.6,89.5H261.4M254.6,92.5H261.4" stroke="#ff0000" stroke-width="1.55" fill="none"/>
<ellipse cx="259.5" cy="92.0" rx="4.0" ry="3.4" fill="none" stroke="#ff0000" stroke-width="1.55"/><path d="M259.5,90.5V93.5M256.1,90.5H262.9M256.1,93.5H262.9" stroke="#ff0000" stroke-width="1.55" fill="none"/>
<ellipse cx="261.0" cy="93.0" rx="4.0" ry="3.4" fill="none" stroke="#ff0000" stroke-width="1.55"/><path d="M261.0,91.5V94.5M257.6,91.5H264.4M257.6,94.5H264.4" stroke="#ff0000" stroke-width="1.55" fill="none"/>
<ellipse cx="262.3" cy="94.0" rx="4.0" ry="3.4" fill="none" stroke="#ff0000" stroke-width="1.55"/><path d="M262.3,92.5V95.5M258.9,92.5H265.7M258.9,95.5H265.7" stroke="#ff0000" stroke-width="1.55" fill="none"/>
<ellipse cx="263.0" cy="95.2" rx="4.0" ry="3.4" fill="none" stroke="#ff0000" stroke-width="1.55"/><path d="M263.0,93.7V96.7M259.6,93.7H266.4M259.6,96.7H266.4" stroke="#ff0000" stroke-width="1.55" fill="none"/>
<ellipse cx="297.9" cy="105.2" rx="4.0" ry="3.6" fill="none" stroke="#ff0000" stroke-width="1.55"/><path d="M297.9,103.7V106.7M294.5,103.7H301.3M294.5,106.7H301.3" stroke="#ff0000" stroke-width="1.55" fill="none"/>
<ellipse cx="303.0" cy="106.4" rx="4.0" ry="3.5" fill="none" stroke="#ff0000" stroke-width="1.4"/><path d="M303.0,105.1V107.7M299.6,105.1H306.4M299.6,107.7H306.4" stroke="#ff0000" stroke-width="1.4" fill="none"/>
<ellipse cx="306.7" cy="108.2" rx="4.0" ry="3.5" fill="none" stroke="#ff0000" stroke-width="1.4"/><path d="M306.7,106.9V109.5M303.3,106.9H310.1M303.3,109.5H310.1" stroke="#ff0000" stroke-width="1.4" fill="none"/>
<ellipse cx="309.1" cy="110.0" rx="4.0" ry="3.5" fill="none" stroke="#ff0000" stroke-width="1.4"/><path d="M309.1,108.7V111.3M305.7,108.7H312.5M305.7,111.3H312.5" stroke="#ff0000" stroke-width="1.4" fill="none"/>
<ellipse cx="312.4" cy="113.4" rx="4.0" ry="3.5" fill="none" stroke="#ff0000" stroke-width="1.4"/><path d="M312.4,112.1V114.7M309.0,112.1H315.8M309.0,114.7H315.8" stroke="#ff0000" stroke-width="1.4" fill="none"/>
<ellipse cx="315.1" cy="113.4" rx="4.0" ry="3.5" fill="none" stroke="#ff0000" stroke-width="1.4"/><path d="M315.1,112.1V114.7M311.7,112.1H318.5M311.7,114.7H318.5" stroke="#ff0000" stroke-width="1.4" fill="none"/>
<ellipse cx="317.2" cy="112.8" rx="4.0" ry="3.5" fill="none" stroke="#ff0000" stroke-width="1.4"/><path d="M317.2,111.5V114.1M313.8,111.5H320.6M313.8,114.1H320.6" stroke="#ff0000" stroke-width="1.4" fill="none"/>
<ellipse cx="319.6" cy="113.9" rx="4.0" ry="3.5" fill="none" stroke="#ff0000" stroke-width="1.4"/><path d="M319.6,112.6V115.2M316.2,112.6H323.0M316.2,115.2H323.0" stroke="#ff0000" stroke-width="1.4" fill="none"/>
<ellipse cx="323.5" cy="116.4" rx="4.0" ry="3.5" fill="none" stroke="#ff0000" stroke-width="1.4"/><path d="M323.5,115.1V117.7M320.1,115.1H326.9M320.1,117.7H326.9" stroke="#ff0000" stroke-width="1.4" fill="none"/>
<ellipse cx="326.2" cy="116.5" rx="4.0" ry="3.5" fill="none" stroke="#ff0000" stroke-width="1.4"/><path d="M326.2,115.2V117.8M322.8,115.2H329.6M322.8,117.8H329.6" stroke="#ff0000" stroke-width="1.4" fill="none"/>
<ellipse cx="328.7" cy="117.6" rx="4.0" ry="3.5" fill="none" stroke="#ff0000" stroke-width="1.4"/><path d="M328.7,116.3V118.9M325.3,116.3H332.1M325.3,118.9H332.1" stroke="#ff0000" stroke-width="1.4" fill="none"/>
<ellipse cx="331.4" cy="120.3" rx="4.0" ry="3.5" fill="none" stroke="#ff0000" stroke-width="1.4"/><path d="M331.4,119.0V121.6M328.0,119.0H334.8M328.0,121.6H334.8" stroke="#ff0000" stroke-width="1.4" fill="none"/>
<ellipse cx="334.6" cy="119.7" rx="4.0" ry="3.5" fill="none" stroke="#ff0000" stroke-width="1.4"/><path d="M334.6,118.4V121.0M331.2,118.4H338.0M331.2,121.0H338.0" stroke="#ff0000" stroke-width="1.4" fill="none"/>
<ellipse cx="337.6" cy="122.9" rx="4.0" ry="3.5" fill="none" stroke="#ff0000" stroke-width="1.4"/><path d="M337.6,121.6V124.2M334.2,121.6H341.0M334.2,124.2H341.0" stroke="#ff0000" stroke-width="1.4" fill="none"/>
<ellipse cx="340.5" cy="123.6" rx="4.0" ry="3.5" fill="none" stroke="#ff0000" stroke-width="1.4"/><path d="M340.5,122.3V124.9M337.1,122.3H343.9M337.1,124.9H343.9" stroke="#ff0000" stroke-width="1.4" fill="none"/>
<ellipse cx="343.5" cy="122.8" rx="4.0" ry="3.4" fill="none" stroke="#ff0000" stroke-width="1.55"/>
<ellipse cx="343.5" cy="129.8" rx="4.0" ry="3.4" fill="none" stroke="#ff0000" stroke-width="1.55"/>
<ellipse cx="354.8" cy="128.3" rx="4.0" ry="3.4" fill="none" stroke="#ff0000" stroke-width="1.55"/><path d="M354.8,125.1V131.5M351.2,125.1H358.4M351.2,131.5H358.4" stroke="#ff0000" stroke-width="1.55" fill="none"/>
<ellipse cx="354.8" cy="130.3" rx="4.0" ry="3.4" fill="none" stroke="#ff0000" stroke-width="1.55"/><path d="M354.8,127.1V133.5M351.2,127.1H358.4M351.2,133.5H358.4" stroke="#ff0000" stroke-width="1.55" fill="none"/>
<ellipse cx="354.8" cy="132.4" rx="4.0" ry="3.4" fill="none" stroke="#ff0000" stroke-width="1.55"/><path d="M354.8,129.2V135.6M351.2,129.2H358.4M351.2,135.6H358.4" stroke="#ff0000" stroke-width="1.55" fill="none"/>
<ellipse cx="353.6" cy="130.3" rx="4.0" ry="3.4" fill="none" stroke="#ff0000" stroke-width="1.55"/><path d="M353.6,127.1V133.5M350.0,127.1H357.2M350.0,133.5H357.2" stroke="#ff0000" stroke-width="1.55" fill="none"/>
<ellipse cx="356.0" cy="130.3" rx="4.0" ry="3.4" fill="none" stroke="#ff0000" stroke-width="1.55"/><path d="M356.0,127.1V133.5M352.4,127.1H359.6M352.4,133.5H359.6" stroke="#ff0000" stroke-width="1.55" fill="none"/>
<ellipse cx="386.5" cy="150.8" rx="3.4" ry="3.3" fill="none" stroke="#ff0000" stroke-width="2.0"/>
<ellipse cx="397.2" cy="160.6" rx="3.6" ry="2.7" fill="#ff0000" stroke="#ff0000" stroke-width="1.55"/>
<path d="M500.59999999999997,236.3L502.7,232.60000000000002H507.09999999999997L509.2,236.3L507.09999999999997,240.0H502.7Z" fill="#ff0000" stroke="#ff0000" stroke-width="0.8" stroke-linejoin="round"/>
<path d="M515.6,248.6L517.6999999999999,244.9H522.1L524.1999999999999,248.6L522.1,252.29999999999998H517.6999999999999Z" fill="#ff0000" stroke="#ff0000" stroke-width="0.8" stroke-linejoin="round"/>
<path d="M529.0,260L531.0999999999999,256.3H535.5L537.5999999999999,260L535.5,263.7H531.0999999999999Z" fill="#ff0000" stroke="#ff0000" stroke-width="0.8" stroke-linejoin="round"/>
<path d="M310.3,105.7L355.8,90.7M339.9,99.7L355.8,90.7L336.8,93.2" stroke="#ff0000" stroke-width="1.3" fill="none" stroke-linejoin="round" stroke-linecap="round"/>
<path d="M321.0,105.7L355.8,90.7M341.1,101.0L355.8,90.7L337.2,94.8" stroke="#ff0000" stroke-width="1.3" fill="none" stroke-linejoin="round" stroke-linecap="round"/>
<path d="M355.8,90.7L338.5,95.2L340.8,99.6Z" fill="#ff0000" stroke="none"/>
<path d="M504.9,236.3L523.6,220.6M513.2,234.1L523.6,220.6L507.5,229.4" stroke="#ff0000" stroke-width="1.7" fill="none" stroke-linejoin="round" stroke-linecap="round"/>
<path d="M519.9,248.6L523.6,220.6M525.5,236.5L523.6,220.6L517.6,235.8" stroke="#ff0000" stroke-width="1.7" fill="none" stroke-linejoin="round" stroke-linecap="round"/>
<path d="M533.3,260.0L523.6,220.6M531.3,235.3L523.6,220.6L523.5,236.6" stroke="#ff0000" stroke-width="1.7" fill="none" stroke-linejoin="round" stroke-linecap="round"/>
<ellipse cx="300.2" cy="90.2" rx="3.8" ry="3.4" fill="none" stroke="#ff00ff" stroke-width="1.45"/><path d="M300.2,88.9V91.5M296.8,88.9H303.6M296.8,91.5H303.6" stroke="#ff00ff" stroke-width="1.45" fill="none"/>
<ellipse cx="304.0" cy="92.6" rx="3.8" ry="3.4" fill="none" stroke="#ff00ff" stroke-width="1.45"/><path d="M304.0,91.3V93.9M300.6,91.3H307.4M300.6,93.9H307.4" stroke="#ff00ff" stroke-width="1.45" fill="none"/>
<ellipse cx="307.4" cy="94.0" rx="3.8" ry="3.4" fill="none" stroke="#ff00ff" stroke-width="1.45"/><path d="M307.4,92.7V95.3M304.0,92.7H310.8M304.0,95.3H310.8" stroke="#ff00ff" stroke-width="1.45" fill="none"/>
<ellipse cx="310.7" cy="95.5" rx="3.8" ry="3.4" fill="none" stroke="#ff00ff" stroke-width="1.45"/><path d="M310.7,94.2V96.8M307.3,94.2H314.1M307.3,96.8H314.1" stroke="#ff00ff" stroke-width="1.45" fill="none"/>
<ellipse cx="314.0" cy="96.5" rx="3.8" ry="3.4" fill="none" stroke="#ff00ff" stroke-width="1.45"/><path d="M314.0,95.2V97.8M310.6,95.2H317.4M310.6,97.8H317.4" stroke="#ff00ff" stroke-width="1.45" fill="none"/>
<ellipse cx="316.8" cy="97.8" rx="3.8" ry="3.4" fill="none" stroke="#ff00ff" stroke-width="1.45"/><path d="M316.8,96.5V99.1M313.4,96.5H320.2M313.4,99.1H320.2" stroke="#ff00ff" stroke-width="1.45" fill="none"/>
<ellipse cx="320.7" cy="98.5" rx="3.8" ry="3.4" fill="none" stroke="#ff00ff" stroke-width="1.45"/><path d="M320.7,97.2V99.8M317.3,97.2H324.1M317.3,99.8H324.1" stroke="#ff00ff" stroke-width="1.45" fill="none"/>
<ellipse cx="323.4" cy="99.7" rx="3.8" ry="3.4" fill="none" stroke="#ff00ff" stroke-width="1.45"/><path d="M323.4,98.4V101.0M320.0,98.4H326.8M320.0,101.0H326.8" stroke="#ff00ff" stroke-width="1.45" fill="none"/>
<ellipse cx="327.3" cy="101.5" rx="3.8" ry="3.4" fill="none" stroke="#ff00ff" stroke-width="1.45"/><path d="M327.3,100.2V102.8M323.9,100.2H330.7M323.9,102.8H330.7" stroke="#ff00ff" stroke-width="1.45" fill="none"/>
<ellipse cx="330.1" cy="102.7" rx="3.8" ry="3.4" fill="none" stroke="#ff00ff" stroke-width="1.45"/><path d="M330.1,101.4V104.0M326.7,101.4H333.5M326.7,104.0H333.5" stroke="#ff00ff" stroke-width="1.45" fill="none"/>
<ellipse cx="333.7" cy="104.1" rx="3.8" ry="3.4" fill="none" stroke="#ff00ff" stroke-width="1.45"/><path d="M333.7,102.8V105.4M330.3,102.8H337.1M330.3,105.4H337.1" stroke="#ff00ff" stroke-width="1.45" fill="none"/>
<ellipse cx="336.3" cy="105.2" rx="3.8" ry="3.4" fill="none" stroke="#ff00ff" stroke-width="1.45"/><path d="M336.3,103.9V106.5M332.9,103.9H339.7M332.9,106.5H339.7" stroke="#ff00ff" stroke-width="1.45" fill="none"/>
<ellipse cx="340.1" cy="107.5" rx="3.8" ry="3.4" fill="none" stroke="#ff00ff" stroke-width="1.45"/><path d="M340.1,106.2V108.8M336.7,106.2H343.5M336.7,108.8H343.5" stroke="#ff00ff" stroke-width="1.45" fill="none"/>
<ellipse cx="344.9" cy="108.9" rx="3.8" ry="3.4" fill="none" stroke="#ff00ff" stroke-width="1.45"/><path d="M344.9,107.6V110.2M341.5,107.6H348.3M341.5,110.2H348.3" stroke="#ff00ff" stroke-width="1.45" fill="none"/>
<ellipse cx="347.3" cy="111.3" rx="3.8" ry="3.4" fill="none" stroke="#ff00ff" stroke-width="1.45"/><path d="M347.3,110.0V112.6M343.9,110.0H350.7M343.9,112.6H350.7" stroke="#ff00ff" stroke-width="1.45" fill="none"/>
<ellipse cx="386.8" cy="132.9" rx="4.0" ry="3.4" fill="none" stroke="#ff00ff" stroke-width="1.55"/><path d="M386.8,131.4V134.4M383.4,131.4H390.2M383.4,134.4H390.2" stroke="#ff00ff" stroke-width="1.55" fill="none"/>
<ellipse cx="389.5" cy="133.8" rx="4.0" ry="3.4" fill="none" stroke="#ff00ff" stroke-width="1.55"/><path d="M389.5,132.3V135.3M386.1,132.3H392.9M386.1,135.3H392.9" stroke="#ff00ff" stroke-width="1.55" fill="none"/>
<ellipse cx="395.0" cy="136.2" rx="4.0" ry="3.4" fill="none" stroke="#ff00ff" stroke-width="1.55"/><path d="M395.0,134.7V137.7M391.6,134.7H398.4M391.6,137.7H398.4" stroke="#ff00ff" stroke-width="1.55" fill="none"/>
<ellipse cx="401.0" cy="142.2" rx="4.0" ry="3.4" fill="none" stroke="#ff00ff" stroke-width="1.55"/><path d="M401.0,140.0V144.4M397.6,140.0H404.4M397.6,144.4H404.4" stroke="#ff00ff" stroke-width="1.55" fill="none"/>
<ellipse cx="403.0" cy="142.7" rx="4.0" ry="3.4" fill="none" stroke="#ff00ff" stroke-width="1.55"/><path d="M403.0,140.5V144.9M399.6,140.5H406.4M399.6,144.9H406.4" stroke="#ff00ff" stroke-width="1.55" fill="none"/>
<ellipse cx="405.0" cy="142.7" rx="4.0" ry="3.4" fill="none" stroke="#ff00ff" stroke-width="1.55"/><path d="M405.0,140.5V144.9M401.6,140.5H408.4M401.6,144.9H408.4" stroke="#ff00ff" stroke-width="1.55" fill="none"/>
<ellipse cx="407.0" cy="143.0" rx="4.0" ry="3.4" fill="none" stroke="#ff00ff" stroke-width="1.55"/><path d="M407.0,140.8V145.2M403.6,140.8H410.4M403.6,145.2H410.4" stroke="#ff00ff" stroke-width="1.55" fill="none"/>
<ellipse cx="443.9" cy="173.4" rx="3.6" ry="3.2" fill="none" stroke="#ff00ff" stroke-width="1.55"/><path d="M443.9,169.3V177.5M440.0,169.3H447.8M440.0,177.5H447.8" stroke="#ff00ff" stroke-width="1.55" fill="none"/>
<ellipse cx="462.3" cy="177.4" rx="3.6" ry="3.2" fill="none" stroke="#ff00ff" stroke-width="1.55"/><path d="M462.3,173.4V181.4M458.4,173.4H466.2M458.4,181.4H466.2" stroke="#ff00ff" stroke-width="1.55" fill="none"/>
<ellipse cx="467.3" cy="183.3" rx="3.8" ry="3.0" fill="none" stroke="#ff00ff" stroke-width="1.55"/><path d="M467.3,181.7V184.9M463.9,181.7H470.7M463.9,184.9H470.7" stroke="#ff00ff" stroke-width="1.55" fill="none"/>
<path d="M551.5,253L555.6,269.8L559.3,253M551,256H560.2M555.6,256V269.8M553.7,256.3L555.6,269.8L557.5,256.3" stroke="#ff00ff" stroke-width="1.1" fill="none" stroke-linejoin="round"/>
<line x1="162.6" y1="55.1" x2="162.6" y2="414.55" stroke="#0000ff" stroke-width="1.6" stroke-dasharray="1.6 3.251" stroke-dashoffset="1.2"/>
<line x1="239.7" y1="55.1" x2="239.7" y2="414.55" stroke="#0000ff" stroke-width="1.6" stroke-dasharray="1.6 3.251" stroke-dashoffset="1.2"/>
<line x1="342.2" y1="55.1" x2="342.2" y2="414.55" stroke="#0000ff" stroke-width="1.6" stroke-dasharray="1.6 3.251" stroke-dashoffset="1.2"/>
<line x1="492.3" y1="55.1" x2="492.3" y2="414.55" stroke="#0000ff" stroke-width="1.6" stroke-dasharray="1.6 3.251" stroke-dashoffset="1.2"/>
<line x1="659.4" y1="55.1" x2="659.4" y2="414.55" stroke="#0000ff" stroke-width="1.6" stroke-dasharray="1.6 3.251" stroke-dashoffset="1.2"/>
<path d="M141.0,414.55V401.55M141.0,55.1V68.1M162.5,414.55V408.05M162.5,55.1V61.6M184.0,414.55V408.05M184.0,55.1V61.6M205.4,414.55V408.05M205.4,55.1V61.6M226.9,414.55V408.05M226.9,55.1V61.6M248.4,414.55V401.55M248.4,55.1V68.1M269.9,414.55V408.05M269.9,55.1V61.6M291.4,414.55V408.05M291.4,55.1V61.6M312.8,414.55V408.05M312.8,55.1V61.6M334.3,414.55V408.05M334.3,55.1V61.6M355.8,414.55V401.55M355.8,55.1V68.1M377.3,414.55V408.05M377.3,55.1V61.6M398.8,414.55V408.05M398.8,55.1V61.6M420.2,414.55V408.05M420.2,55.1V61.6M441.7,414.55V408.05M441.7,55.1V61.6M463.2,414.55V401.55M463.2,55.1V68.1M484.7,414.55V408.05M484.7,55.1V61.6M506.2,414.55V408.05M506.2,55.1V61.6M527.6,414.55V408.05M527.6,55.1V61.6M549.1,414.55V408.05M549.1,55.1V61.6M570.6,414.55V401.55M570.6,55.1V68.1M592.1,414.55V408.05M592.1,55.1V61.6M613.6,414.55V408.05M613.6,55.1V61.6M635.0,414.55V408.05M635.0,55.1V61.6M656.5,414.55V408.05M656.5,55.1V61.6M678.0,414.55V401.55M678.0,55.1V68.1M699.5,414.55V408.05M699.5,55.1V61.6M141.15,58.6H149.35M700.05,58.6H691.8499999999999M141.15,74.8H157.65M700.05,74.8H683.55M141.15,91.0H149.35M700.05,91.0H691.8499999999999M141.15,107.1H149.35M700.05,107.1H691.8499999999999M141.15,123.3H149.35M700.05,123.3H691.8499999999999M141.15,139.5H157.65M700.05,139.5H683.55M141.15,155.7H149.35M700.05,155.7H691.8499999999999M141.15,171.8H149.35M700.05,171.8H691.8499999999999M141.15,188.0H149.35M700.05,188.0H691.8499999999999M141.15,204.2H157.65M700.05,204.2H683.55M141.15,220.3H149.35M700.05,220.3H691.8499999999999M141.15,236.5H149.35M700.05,236.5H691.8499999999999M141.15,252.7H149.35M700.05,252.7H691.8499999999999M141.15,268.8H157.65M700.05,268.8H683.55M141.15,285.0H149.35M700.05,285.0H691.8499999999999M141.15,301.2H149.35M700.05,301.2H691.8499999999999M141.15,317.4H149.35M700.05,317.4H691.8499999999999M141.15,333.5H157.65M700.05,333.5H683.55M141.15,349.7H149.35M700.05,349.7H691.8499999999999M141.15,365.9H149.35M700.05,365.9H691.8499999999999M141.15,382.0H149.35M700.05,382.0H691.8499999999999M141.15,398.2H157.65M700.05,398.2H683.55M141.15,414.4H149.35M700.05,414.4H691.8499999999999" stroke="#000" stroke-width="1.15" fill="none"/>
<rect x="141.15" y="55.1" width="558.9" height="359.45" fill="none" stroke="#000" stroke-width="1.3"/>
<g opacity="0.999">
<text x="151.62" y="49.6" font-size="18.5" fill="#0000ff" stroke="#0000ff" stroke-width="0.2" textLength="47.22" lengthAdjust="spacingAndGlyphs">3.5h</text>
<text x="234.19" y="49.6" font-size="18.5" fill="#0000ff" stroke="#0000ff" stroke-width="0.2" textLength="26.84" lengthAdjust="spacingAndGlyphs">8h</text>
<text x="335.90" y="49.6" font-size="18.5" fill="#0000ff" stroke="#0000ff" stroke-width="0.2" textLength="25.03" lengthAdjust="spacingAndGlyphs">1d</text>
<text x="485.17" y="49.6" font-size="18.5" fill="#0000ff" stroke="#0000ff" stroke-width="0.2" textLength="26.56" lengthAdjust="spacingAndGlyphs">5d</text>
<text x="635.62" y="49.6" font-size="18.5" fill="#0000ff" stroke="#0000ff" stroke-width="0.2" textLength="39.18" lengthAdjust="spacingAndGlyphs">30d</text>
<text x="134.46" y="440.8" font-size="22.5" fill="#000" stroke="#000" stroke-width="0.25" textLength="13.40" lengthAdjust="spacingAndGlyphs">4</text>
<text x="230.23" y="440.8" font-size="22.5" fill="#000" stroke="#000" stroke-width="0.25" textLength="37.31" lengthAdjust="spacingAndGlyphs">4.5</text>
<text x="347.98" y="440.8" font-size="22.5" fill="#000" stroke="#000" stroke-width="0.25" textLength="15.42" lengthAdjust="spacingAndGlyphs">5</text>
<text x="443.86" y="440.8" font-size="22.5" fill="#000" stroke="#000" stroke-width="0.25" textLength="38.50" lengthAdjust="spacingAndGlyphs">5.5</text>
<text x="563.54" y="440.8" font-size="22.5" fill="#000" stroke="#000" stroke-width="0.25" textLength="14.17" lengthAdjust="spacingAndGlyphs">6</text>
<text x="659.38" y="440.8" font-size="22.5" fill="#000" stroke="#000" stroke-width="0.25" textLength="37.46" lengthAdjust="spacingAndGlyphs">6.5</text>
<text x="98.21" y="82.2" font-size="22.5" fill="#000" stroke="#000" stroke-width="0.25" textLength="28.65" lengthAdjust="spacingAndGlyphs">18</text>
<text x="96.85" y="146.9" font-size="22.5" fill="#000" stroke="#000" stroke-width="0.25" textLength="30.05" lengthAdjust="spacingAndGlyphs">20</text>
<text x="96.83" y="211.6" font-size="22.5" fill="#000" stroke="#000" stroke-width="0.25" textLength="30.71" lengthAdjust="spacingAndGlyphs">22</text>
<text x="96.87" y="276.2" font-size="22.5" fill="#000" stroke="#000" stroke-width="0.25" textLength="29.42" lengthAdjust="spacingAndGlyphs">24</text>
<text x="96.85" y="340.9" font-size="22.5" fill="#000" stroke="#000" stroke-width="0.25" textLength="29.89" lengthAdjust="spacingAndGlyphs">26</text>
<text x="96.85" y="405.6" font-size="22.5" fill="#000" stroke="#000" stroke-width="0.25" textLength="30.05" lengthAdjust="spacingAndGlyphs">28</text>
<text x="336.46" y="465.6" font-size="18.5" fill="#000" stroke="#000" stroke-width="0.25" textLength="36.12" lengthAdjust="spacingAndGlyphs">Log</text>
<text x="385.24" y="465.6" font-size="18.5" fill="#000" stroke="#000" stroke-width="0.25" textLength="52.49" lengthAdjust="spacingAndGlyphs">Time</text>
<text x="450.20" y="465.6" font-size="18.5" fill="#000" stroke="#000" stroke-width="0.25" textLength="53.30" lengthAdjust="spacingAndGlyphs">(sec)</text>
<g transform="translate(80.5,252.2) rotate(-90) scale(1,1.2)"><text x="-0.36" y="0" font-size="18.8" fill="#000" stroke="#000" stroke-width="0.25" textLength="35.74" lengthAdjust="spacingAndGlyphs">Mag</text></g>
<text x="184.03" y="166.0" font-size="19" fill="#000" stroke="#000" stroke-width="0.25" textLength="44.46" lengthAdjust="spacingAndGlyphs">GRB</text>
<text x="239.81" y="166.0" font-size="19" fill="#000" stroke="#000" stroke-width="0.25" textLength="78.99" lengthAdjust="spacingAndGlyphs">990510</text>
<text x="185.31" y="68.5" font-size="18.5" fill="#ff0000" stroke="#ff0000" stroke-width="0.3" textLength="12.86" lengthAdjust="spacingAndGlyphs">R</text>
<text x="249.63" y="84.6" font-size="18.5" fill="#ff0000" stroke="#ff0000" stroke-width="0.3" textLength="12.45" lengthAdjust="spacingAndGlyphs">R</text>
<text x="400.23" y="158.8" font-size="18.5" fill="#ff0000" stroke="#ff0000" stroke-width="0.3" textLength="12.45" lengthAdjust="spacingAndGlyphs">R</text>
<text x="358.00" y="91.0" font-size="18.5" fill="#ff0000" stroke="#ff0000" stroke-width="0.3" textLength="38.60" lengthAdjust="spacingAndGlyphs">VLT</text>
<text x="524.58" y="220.6" font-size="18.5" fill="#ff0000" stroke="#ff0000" stroke-width="0.3" textLength="41.93" lengthAdjust="spacingAndGlyphs">NTT</text>
<text x="421.06" y="143.2" font-size="18.5" fill="#ff00ff" stroke="#ff00ff" stroke-width="0.3" textLength="6.35" lengthAdjust="spacingAndGlyphs">I</text>
<text x="378.24" y="194.4" font-size="18.5" fill="#00ff00" stroke="#00ff00" stroke-width="0.3" textLength="12.02" lengthAdjust="spacingAndGlyphs">V</text>
<text x="442.80" y="288.9" font-size="18.5" fill="#00ff00" stroke="#00ff00" stroke-width="0.3" textLength="37.70" lengthAdjust="spacingAndGlyphs">VLT</text>
<text x="529.06" y="372.8" font-size="18.5" fill="#00ff00" stroke="#00ff00" stroke-width="0.3" textLength="43.74" lengthAdjust="spacingAndGlyphs">HST</text>
</g>
<ellipse cx="407.3" cy="149.4" rx="2.9" ry="2.6" fill="none" stroke="#ff00ff" stroke-width="1.3"/>
</svg></body></html>
